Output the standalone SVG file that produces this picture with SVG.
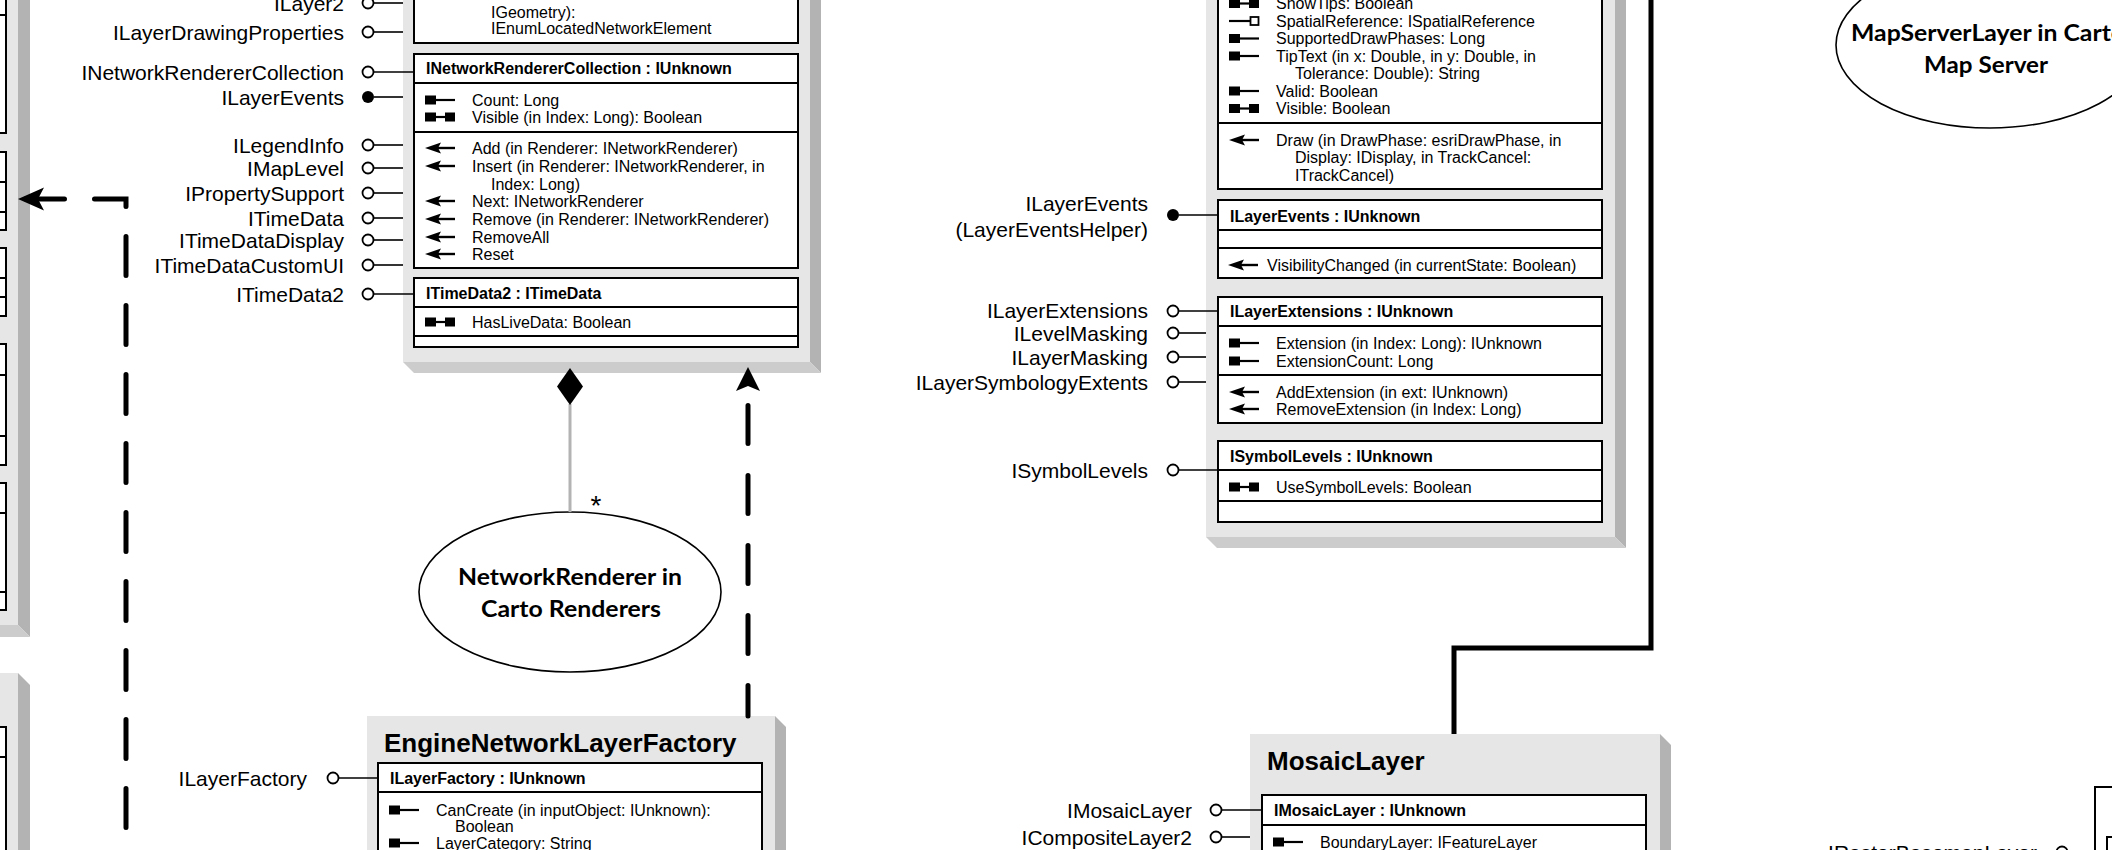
<svg xmlns="http://www.w3.org/2000/svg" xmlns:xlink="http://www.w3.org/1999/xlink" width="2112" height="850" viewBox="0 0 2112 850">
<style>
.lbl{font-family:"Liberation Sans",Arial,sans-serif;font-size:21px;text-anchor:end;fill:#000}
.t{font-family:"Liberation Sans",Arial,sans-serif;font-size:16px;fill:#000}
.h{font-family:"Liberation Sans",Arial,sans-serif;font-size:16px;font-weight:bold;fill:#000}
.ttl{font-family:"Liberation Sans",Arial,sans-serif;font-size:26px;font-weight:bold;fill:#000}
.ell{font-family:Lato,"Open Sans",sans-serif;font-size:22px;font-weight:bold;text-anchor:middle;fill:#000}
.body{fill:#e6e6e6}
.rf{fill:#b3b3b3}
.bf{fill:#cccccc}
.ib{fill:#fff;stroke:#000;stroke-width:2}
.dv{stroke:#000;stroke-width:2}
.lk{stroke:#000;stroke-width:1.6}
.lol{fill:#fff;stroke:#000;stroke-width:1.8}
.dot{fill:#000}
.dash{fill:none;stroke:#000;stroke-width:5;stroke-linecap:round}
</style>
<defs>
<g id="ro"><rect x="0" y="-4.5" width="11" height="9" fill="#000"/><line x1="10" y1="0" x2="30" y2="0" stroke="#000" stroke-width="2.2"/></g>
<g id="rw"><rect x="0" y="-4.5" width="11" height="9" fill="#000"/><line x1="10" y1="0" x2="20" y2="0" stroke="#000" stroke-width="2.2"/><rect x="20" y="-4.5" width="10" height="9" fill="#000"/></g>
<g id="wo"><line x1="0" y1="0" x2="21" y2="0" stroke="#000" stroke-width="2.2"/><rect x="21.5" y="-4" width="8" height="8" fill="#fff" stroke="#000" stroke-width="1.8"/></g>
<g id="mt"><polygon points="0,0 16,-5.5 13,0 16,5.5" fill="#000"/><line x1="13" y1="0" x2="30" y2="0" stroke="#000" stroke-width="2.4"/></g>
</defs>
<rect x="0" y="0" width="2112" height="850" fill="#fff"/>

<!-- Left partial class (top) -->
<g id="left-class-top">
<rect class="body" x="-20" y="-20" width="38" height="645"/>
<polygon class="rf" points="18,-20 30,-20 30,637 18,625"/>
<polygon class="bf" points="-20,625 18,625 30,637 -20,637"/>
<rect class="ib" x="-50" y="-50" width="56" height="183"/>
<line class="dv" x1="-50" y1="15" x2="6" y2="15"/>
<rect class="ib" x="-50" y="152" width="56" height="78"/>
<line class="dv" x1="-50" y1="182" x2="6" y2="182"/>
<line class="dv" x1="-50" y1="212" x2="6" y2="212"/>
<rect class="ib" x="-50" y="248" width="56" height="68"/>
<line class="dv" x1="-50" y1="278" x2="6" y2="278"/>
<line class="dv" x1="-50" y1="297" x2="6" y2="297"/>
<rect class="ib" x="-50" y="344" width="56" height="121"/>
<line class="dv" x1="-50" y1="375" x2="6" y2="375"/>
<line class="dv" x1="-50" y1="436" x2="6" y2="436"/>
<rect class="ib" x="-50" y="483" width="56" height="127"/>
<line class="dv" x1="-50" y1="513" x2="6" y2="513"/>
<line class="dv" x1="-50" y1="592" x2="6" y2="592"/>
</g>

<!-- Left partial class (bottom) -->
<g id="left-class-bottom">
<rect class="body" x="-20" y="673" width="38" height="200"/>
<polygon class="rf" points="18,673 30,685 30,873 18,873"/>
<rect class="ib" x="-50" y="727" width="56" height="200"/>
<line class="dv" x1="-50" y1="757" x2="6" y2="757"/>
</g>

<!-- NetworkLayer class (center-left) -->
<g id="network-layer">
<rect class="body" x="403" y="-20" width="407" height="382"/>
<polygon class="rf" points="810,-20 821,-20 821,373 810,362"/>
<polygon class="bf" points="403,362 810,362 821,373 414,373"/>
<rect class="ib" x="414" y="-50" width="384" height="93"/>
<text class="t" x="491" y="18">IGeometry):</text>
<text class="t" x="491" y="34">IEnumLocatedNetworkElement</text>

<rect class="ib" x="414" y="54" width="384" height="214"/>
<line class="dv" x1="414" y1="83" x2="798" y2="83"/>
<line class="dv" x1="414" y1="132" x2="798" y2="132"/>
<text class="h" x="426" y="74">INetworkRendererCollection : IUnknown</text>
<use xlink:href="#ro" x="425" y="100"/><text class="t" x="472" y="105.7">Count: Long</text>
<use xlink:href="#rw" x="425" y="117"/><text class="t" x="472" y="122.7">Visible (in Index: Long): Boolean</text>
<use xlink:href="#mt" x="425" y="148"/><text class="t" x="472" y="153.7">Add (in Renderer: INetworkRenderer)</text>
<use xlink:href="#mt" x="425" y="166"/><text class="t" x="472" y="171.7">Insert (in Renderer: INetworkRenderer, in</text>
<text class="t" x="491" y="189.7">Index: Long)</text>
<use xlink:href="#mt" x="425" y="201"/><text class="t" x="472" y="206.7">Next: INetworkRenderer</text>
<use xlink:href="#mt" x="425" y="219"/><text class="t" x="472" y="224.7">Remove (in Renderer: INetworkRenderer)</text>
<use xlink:href="#mt" x="425" y="237"/><text class="t" x="472" y="242.7">RemoveAll</text>
<use xlink:href="#mt" x="425" y="254"/><text class="t" x="472" y="259.7">Reset</text>

<rect class="ib" x="414" y="278" width="384" height="69"/>
<line class="dv" x1="414" y1="307" x2="798" y2="307"/>
<line class="dv" x1="414" y1="336" x2="798" y2="336"/>
<text class="h" x="426" y="298.7">ITimeData2 : ITimeData</text>
<use xlink:href="#rw" x="425" y="322"/><text class="t" x="472" y="327.7">HasLiveData: Boolean</text>

<text class="lbl" x="344" y="10.5">ILayer2</text>
<line class="lk" x1="374" y1="3" x2="403" y2="3"/><circle class="lol" cx="368" cy="3" r="5.5"/>
<text class="lbl" x="344" y="39.5">ILayerDrawingProperties</text>
<line class="lk" x1="374" y1="32" x2="403" y2="32"/><circle class="lol" cx="368" cy="32" r="5.5"/>
<text class="lbl" x="344" y="79.5">INetworkRendererCollection</text>
<line class="lk" x1="374" y1="72" x2="414" y2="72"/><circle class="lol" cx="368" cy="72" r="5.5"/>
<text class="lbl" x="344" y="104.5">ILayerEvents</text>
<line class="lk" x1="374" y1="97" x2="403" y2="97"/><circle class="dot" cx="368" cy="97" r="6"/>
<text class="lbl" x="344" y="152.5">ILegendInfo</text>
<line class="lk" x1="374" y1="145" x2="403" y2="145"/><circle class="lol" cx="368" cy="145" r="5.5"/>
<text class="lbl" x="344" y="175.5">IMapLevel</text>
<line class="lk" x1="374" y1="168" x2="403" y2="168"/><circle class="lol" cx="368" cy="168" r="5.5"/>
<text class="lbl" x="344" y="200.5">IPropertySupport</text>
<line class="lk" x1="374" y1="193" x2="403" y2="193"/><circle class="lol" cx="368" cy="193" r="5.5"/>
<text class="lbl" x="344" y="225.5">ITimeData</text>
<line class="lk" x1="374" y1="218" x2="403" y2="218"/><circle class="lol" cx="368" cy="218" r="5.5"/>
<text class="lbl" x="344" y="247.5">ITimeDataDisplay</text>
<line class="lk" x1="374" y1="240" x2="403" y2="240"/><circle class="lol" cx="368" cy="240" r="5.5"/>
<text class="lbl" x="344" y="272.5">ITimeDataCustomUI</text>
<line class="lk" x1="374" y1="265" x2="403" y2="265"/><circle class="lol" cx="368" cy="265" r="5.5"/>
<text class="lbl" x="344" y="301.5">ITimeData2</text>
<line class="lk" x1="374" y1="294" x2="414" y2="294"/><circle class="lol" cx="368" cy="294" r="5.5"/>
</g>

<!-- NetworkRenderer ellipse -->
<g id="network-renderer">
<ellipse cx="570" cy="592" rx="151" ry="80" fill="#fff" stroke="#000" stroke-width="1.6"/>
<text class="ell" x="570" y="585" textLength="224" lengthAdjust="spacingAndGlyphs">NetworkRenderer in</text>
<text class="ell" x="571" y="617" textLength="180" lengthAdjust="spacingAndGlyphs">Carto Renderers</text>
</g>

<!-- EngineNetworkLayerFactory -->
<g id="engine-network-layer-factory">
<rect class="body" x="367" y="716" width="408" height="160"/>
<polygon class="rf" points="775,716 786,727 786,876 775,876"/>
<text class="ttl" x="384" y="752">EngineNetworkLayerFactory</text>
<rect class="ib" x="378" y="763" width="384" height="140"/>
<line class="dv" x1="378" y1="792" x2="762" y2="792"/>
<text class="h" x="390" y="783.7">ILayerFactory : IUnknown</text>
<use xlink:href="#ro" x="389" y="810"/><text class="t" x="436" y="815.7">CanCreate (in inputObject: IUnknown):</text>
<text class="t" x="455" y="832">Boolean</text>
<use xlink:href="#ro" x="389" y="843"/><text class="t" x="436" y="848.7">LayerCategory: String</text>
<text class="lbl" x="307" y="785.5">ILayerFactory</text>
<line class="lk" x1="339" y1="778" x2="378" y2="778"/><circle class="lol" cx="333" cy="778" r="5.5"/>
</g>

<!-- Middle class -->
<g id="layer-class-middle">
<rect class="body" x="1206" y="-20" width="409" height="557"/>
<polygon class="rf" points="1615,-20 1626,-20 1626,548 1615,537"/>
<polygon class="bf" points="1206,537 1615,537 1626,548 1217,548"/>
<rect class="ib" x="1218" y="-50" width="384" height="239"/>
<line class="dv" x1="1218" y1="123" x2="1602" y2="123"/>
<use xlink:href="#rw" x="1229" y="3.5"/><text class="t" x="1276" y="9.2">ShowTips: Boolean</text>
<use xlink:href="#wo" x="1229" y="21"/><text class="t" x="1276" y="26.7">SpatialReference: ISpatialReference</text>
<use xlink:href="#ro" x="1229" y="38.5"/><text class="t" x="1276" y="44.2">SupportedDrawPhases: Long</text>
<use xlink:href="#ro" x="1229" y="56"/><text class="t" x="1276" y="61.7">TipText (in x: Double, in y: Double, in</text>
<text class="t" x="1295" y="79.2">Tolerance: Double): String</text>
<use xlink:href="#ro" x="1229" y="91"/><text class="t" x="1276" y="96.7">Valid: Boolean</text>
<use xlink:href="#rw" x="1229" y="108.5"/><text class="t" x="1276" y="114.2">Visible: Boolean</text>
<use xlink:href="#mt" x="1229" y="140"/><text class="t" x="1276" y="145.7">Draw (in DrawPhase: esriDrawPhase, in</text>
<text class="t" x="1295" y="163.2">Display: IDisplay, in TrackCancel:</text>
<text class="t" x="1295" y="180.7">ITrackCancel)</text>

<rect class="ib" x="1218" y="200" width="384" height="78"/>
<line class="dv" x1="1218" y1="230" x2="1602" y2="230"/>
<line class="dv" x1="1218" y1="248" x2="1602" y2="248"/>
<text class="h" x="1230" y="221.7">ILayerEvents : IUnknown</text>
<use xlink:href="#mt" x="1228" y="265"/><text class="t" x="1267" y="270.7">VisibilityChanged (in currentState: Boolean)</text>

<rect class="ib" x="1218" y="297" width="384" height="126"/>
<line class="dv" x1="1218" y1="326" x2="1602" y2="326"/>
<line class="dv" x1="1218" y1="375" x2="1602" y2="375"/>
<text class="h" x="1230" y="317">ILayerExtensions : IUnknown</text>
<use xlink:href="#ro" x="1229" y="343"/><text class="t" x="1276" y="348.7">Extension (in Index: Long): IUnknown</text>
<use xlink:href="#ro" x="1229" y="361"/><text class="t" x="1276" y="366.7">ExtensionCount: Long</text>
<use xlink:href="#mt" x="1229" y="392"/><text class="t" x="1276" y="397.7">AddExtension (in ext: IUnknown)</text>
<use xlink:href="#mt" x="1229" y="409"/><text class="t" x="1276" y="414.7">RemoveExtension (in Index: Long)</text>

<rect class="ib" x="1218" y="441" width="384" height="81"/>
<line class="dv" x1="1218" y1="470" x2="1602" y2="470"/>
<line class="dv" x1="1218" y1="501" x2="1602" y2="501"/>
<text class="h" x="1230" y="461.7">ISymbolLevels : IUnknown</text>
<use xlink:href="#rw" x="1229" y="487"/><text class="t" x="1276" y="492.7">UseSymbolLevels: Boolean</text>

<text class="lbl" x="1148" y="210.5">ILayerEvents</text>
<text class="lbl" x="1148" y="236.5">(LayerEventsHelper)</text>
<line class="lk" x1="1179" y1="215" x2="1218" y2="215"/><circle class="dot" cx="1173" cy="215" r="6"/>
<text class="lbl" x="1148" y="317.5">ILayerExtensions</text>
<line class="lk" x1="1179" y1="311" x2="1218" y2="311"/><circle class="lol" cx="1173" cy="311" r="5.5"/>
<text class="lbl" x="1148" y="340.5">ILevelMasking</text>
<line class="lk" x1="1179" y1="333" x2="1206" y2="333"/><circle class="lol" cx="1173" cy="333" r="5.5"/>
<text class="lbl" x="1148" y="364.5">ILayerMasking</text>
<line class="lk" x1="1179" y1="357" x2="1206" y2="357"/><circle class="lol" cx="1173" cy="357" r="5.5"/>
<text class="lbl" x="1148" y="389.5">ILayerSymbologyExtents</text>
<line class="lk" x1="1179" y1="382" x2="1206" y2="382"/><circle class="lol" cx="1173" cy="382" r="5.5"/>
<text class="lbl" x="1148" y="477.5">ISymbolLevels</text>
<line class="lk" x1="1179" y1="470" x2="1218" y2="470"/><circle class="lol" cx="1173" cy="470" r="5.5"/>
</g>

<!-- MosaicLayer -->
<g id="mosaic-layer">
<rect class="body" x="1250" y="734" width="410" height="140"/>
<polygon class="rf" points="1660,734 1671,745 1671,874 1660,874"/>
<text class="ttl" x="1267" y="770">MosaicLayer</text>
<rect class="ib" x="1262" y="795" width="384" height="120"/>
<line class="dv" x1="1262" y1="825" x2="1646" y2="825"/>
<text class="h" x="1274" y="815.7">IMosaicLayer : IUnknown</text>
<use xlink:href="#ro" x="1273" y="842"/><text class="t" x="1320" y="847.7">BoundaryLayer: IFeatureLayer</text>
<text class="lbl" x="1192" y="817.5">IMosaicLayer</text>
<line class="lk" x1="1222" y1="810" x2="1262" y2="810"/><circle class="lol" cx="1216" cy="810" r="5.5"/>
<text class="lbl" x="1192" y="844.5">ICompositeLayer2</text>
<line class="lk" x1="1222" y1="837" x2="1250" y2="837"/><circle class="lol" cx="1216" cy="837" r="5.5"/>
</g>

<!-- MapServerLayer ellipse -->
<g id="map-server-layer">
<ellipse cx="1990" cy="45" rx="154" ry="83" fill="#fff" stroke="#000" stroke-width="1.6"/>
<text class="ell" x="1988" y="41" textLength="274" lengthAdjust="spacingAndGlyphs">MapServerLayer in Carto</text>
<text class="ell" x="1986" y="73" textLength="124" lengthAdjust="spacingAndGlyphs">Map Server</text>
</g>

<!-- Right partial class -->
<g id="raster-basemap-layer">
<rect x="2095" y="787" width="60" height="100" fill="#fff" stroke="#000" stroke-width="2"/>
<rect x="2107" y="837" width="60" height="60" fill="#fff" stroke="#000" stroke-width="2"/>
<text class="lbl" x="2037" y="859.5">IRasterBasemapLayer</text>
<line class="lk" x1="2068" y1="852" x2="2095" y2="852"/><circle class="lol" cx="2062" cy="852" r="5.5"/>
</g>

<!-- Connectors -->
<g id="connectors">
<path class="dash" d="M20,199 H126 V860" stroke-dasharray="39 30" stroke-dashoffset="63.5"/>
<polygon points="18,199 44,187.5 38,199 44,210.5" fill="#000"/>
<path class="dash" d="M748,716 V392" stroke-dasharray="38 32" stroke-dashoffset="7.5"/>
<polygon points="748,367 760,391 748,386 736,391" fill="#000"/>
<line x1="570" y1="404" x2="570" y2="512" stroke="#b3b3b3" stroke-width="3"/>
<polygon points="570,368 583,386.5 570,405 557,386.5" fill="#000"/>
<text x="596" y="515" font-family="Liberation Sans, Arial, sans-serif" font-size="28" text-anchor="middle">*</text>
<path d="M1651,-5 V648 H1454 V734" fill="none" stroke="#000" stroke-width="5"/>
</g>
</svg>
